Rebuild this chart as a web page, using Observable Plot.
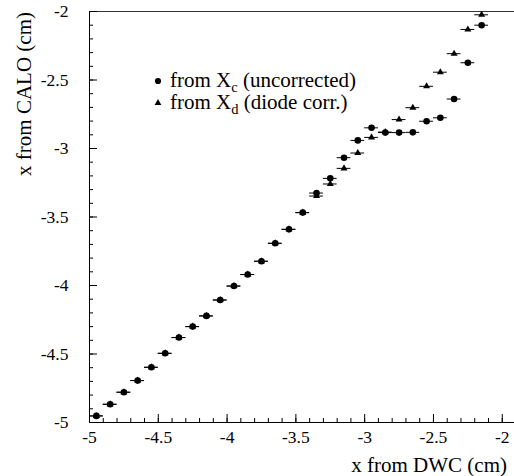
<!DOCTYPE html>
<html>
<head>
<meta charset="utf-8">
<script src="https://cdn.jsdelivr.net/npm/d3@7"></script>
<script src="https://cdn.jsdelivr.net/npm/@observablehq/plot@0.6"></script>
<style>
  html, body { margin: 0; padding: 0; background: white; }
  #chart { width: 514px; height: 476px; }
  #chart svg text { font-family: 'Liberation Serif', 'Times New Roman', serif !important; }
</style>
</head>
<body>
<div id="chart"></div>
<script>
// ---- data ----
const binCenters = [-4.95, -4.85, -4.75, -4.65, -4.55, -4.45, -4.35, -4.25, -4.15, -4.05,
                    -3.95, -3.85, -3.75, -3.65, -3.55, -3.45, -3.35, -3.25, -3.15, -3.05,
                    -2.95, -2.85, -2.75, -2.65, -2.55, -2.45, -2.35, -2.25, -2.15];
const yUncorrected = [-4.952, -4.867, -4.779, -4.694, -4.597, -4.495, -4.380, -4.300, -4.222, -4.106,
                      -4.004, -3.920, -3.823, -3.692, -3.590, -3.468, -3.325, -3.218, -3.067, -2.941,
                      -2.849, -2.884, -2.884, -2.882, -2.801, -2.776, -2.639, -2.374, -2.100];
const yDiodeCorr   = [-4.952, -4.867, -4.779, -4.694, -4.597, -4.495, -4.380, -4.300, -4.222, -4.106,
                      -4.004, -3.920, -3.823, -3.692, -3.590, -3.468, -3.347, -3.259, -3.145, -3.033,
                      -2.919, -2.880, -2.789, -2.702, -2.546, -2.443, -2.308, -2.131, -2.024];
const xErr = 0.05;
const xMajorTicks = [-5, -4.5, -4, -3.5, -3, -2.5, -2];
const yMajorTicks = [-5, -4.5, -4, -3.5, -3, -2.5, -2];
const xTitle = "x from DWC (cm)";
const yTitle = "x from CALO (cm)";
const legendLabels = [
  {main: "from X", sub: "c", rest: " (uncorrected)"},
  {main: "from X", sub: "d", rest: " (diode corr.)"}
];

// ---- layout ----
const W = 514, H = 476;
const mL = 89, mR = 0, mT = 11, mB = 54;
const plotW = W - mL - mR, plotH = H - mT - mB;
const font = "'Liberation Serif', 'Times New Roman', serif";

const uncorr = binCenters.map((x, i) => ({x, y: yUncorrected[i]}));
const corr = binCenters.map((x, i) => ({x, y: yDiodeCorr[i]}));
const xMinor = d3.range(0, 32).map(i => Math.round((-5 + i / 10) * 10) / 10);
const yMinor = d3.range(0, 31).map(i => Math.round((-5 + i / 10) * 10) / 10);

const chart = Plot.plot({
  width: W, height: H,
  marginLeft: mL, marginRight: mR, marginTop: mT, marginBottom: mB,
  x: {domain: [-5, -1.911]},
  y: {domain: [-5, -2]},
  style: {fontFamily: font, fontSize: "17.5px", color: "black", background: "white", overflow: "visible"},
  marks: [
    // frame
    Plot.ruleX([-5], {stroke: "black"}),
    Plot.ruleY([-5], {stroke: "black"}),
    Plot.ruleY([-2], {stroke: "#333"}),
    // inward ticks
    Plot.ruleX(xMinor, {insetTop: plotH - 4, stroke: "black"}),
    Plot.ruleX(xMajorTicks, {insetTop: plotH - 8, stroke: "black"}),
    Plot.ruleY(yMinor, {insetRight: plotW - 4, stroke: "black"}),
    Plot.ruleY(yMajorTicks, {insetRight: plotW - 8, stroke: "black"}),
    Plot.axisX({ticks: xMajorTicks, tickSize: 0, tickPadding: 8, tickFormat: d => String(d), label: null, fontFamily: font}),
    Plot.axisY({ticks: yMajorTicks, tickSize: 0, tickPadding: 21, tickFormat: d => String(d), label: null, fontFamily: font}),
    // error bars
    Plot.ruleY(corr, {y: "y", x1: d => d.x - xErr, x2: d => d.x + xErr, stroke: "black", strokeWidth: 1}),
    Plot.ruleY(uncorr, {y: "y", x1: d => d.x - xErr, x2: d => d.x + xErr, stroke: "black", strokeWidth: 1}),
    // markers
    Plot.dot(corr, {x: "x", y: "y", symbol: "triangle", r: 2.6, fill: "black", stroke: "none"}),
    Plot.dot(uncorr, {x: "x", y: "y", symbol: "circle", r: 3.3, fill: "black", stroke: "none"})
  ]
});
document.getElementById("chart").appendChild(chart);

// titles and legend as real SVG text
const svg = d3.select(chart);
svg.append("text")
  .attr("x", 507).attr("y", 472)
  .attr("text-anchor", "end")
  .attr("font-family", font).attr("font-size", 21)
  .attr("fill", "black")
  .text(xTitle);
svg.append("text")
  .attr("transform", "translate(31,12) rotate(-90)")
  .attr("text-anchor", "end")
  .attr("font-family", font).attr("font-size", 21)
  .attr("fill", "black")
  .text(yTitle);

const legendY = [87, 109];
const symbols = [d3.symbolCircle, d3.symbolTriangle];
const symSizes = [30, 20];
legendLabels.forEach((lab, i) => {
  svg.append("path")
    .attr("d", d3.symbol(symbols[i], symSizes[i])())
    .attr("transform", `translate(158,${legendY[i] - 6})`)
    .attr("fill", "black");
  const t = svg.append("text")
    .attr("x", 170).attr("y", legendY[i])
    .attr("text-anchor", "start")
    .attr("font-family", font).attr("font-size", 21)
    .attr("fill", "black");
  t.append("tspan").text(lab.main);
  t.append("tspan").attr("dy", 5).attr("font-size", 14.5).text(lab.sub);
  t.append("tspan").attr("dy", -5).text(lab.rest);
});
</script>
</body>
</html>
